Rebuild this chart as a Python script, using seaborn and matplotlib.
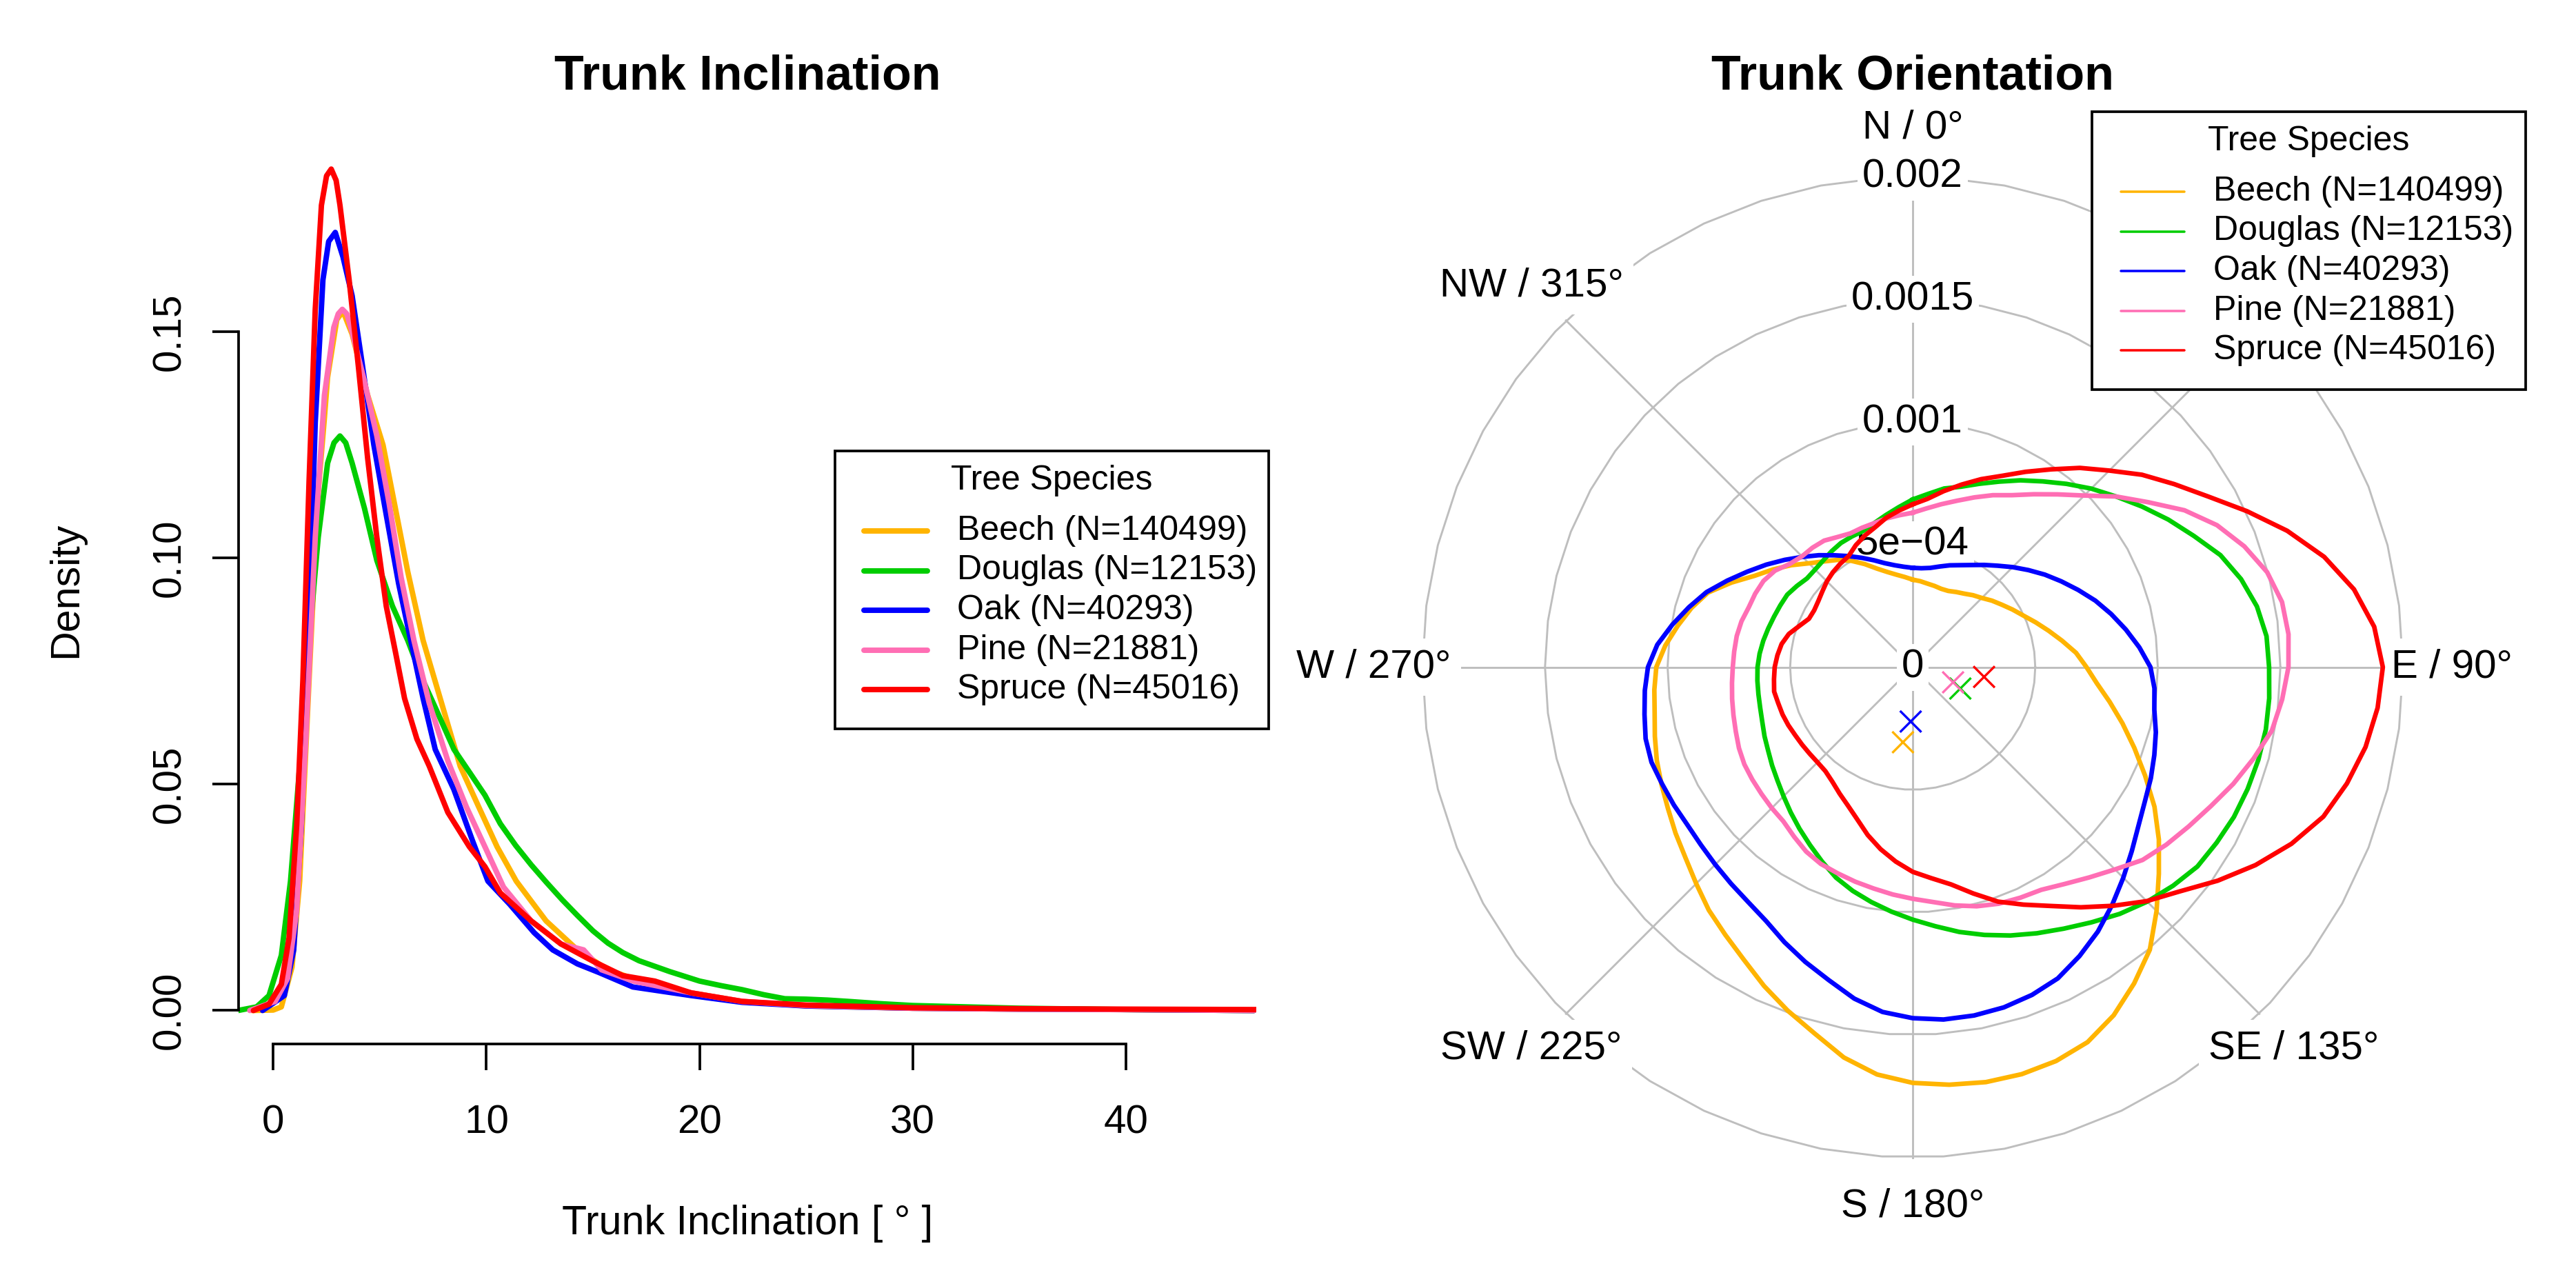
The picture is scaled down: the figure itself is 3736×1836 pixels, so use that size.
import numpy as np
import pandas as pd
import matplotlib
matplotlib.use("Agg")
import matplotlib.pyplot as plt
from matplotlib.patches import Rectangle
import seaborn as sns

plt.rcParams['font.family'] = ['Liberation Sans', 'DejaVu Sans']

# ---------------- data ----------------
species = ["Beech", "Douglas", "Oak", "Pine", "Spruce"]
counts = [140499, 12153, 40293, 21881, 45016]
colors = ["#FFB400", "#00CD00", "#0000FF", "#FF6EB4", "#FF0000"]

# Trunk inclination density curves (x in degrees, density)
beech_x = [-1.0, 0.0, 0.38, 0.88, 1.24, 1.68, 2.11, 2.4, 2.55, 2.98, 3.27, 3.7, 4.43, 5.15, 5.73, 6.31, 7.03, 7.9,
           8.77, 9.64, 10.5, 11.4, 12.8, 14.27, 15.7, 17.2, 19.6, 22, 25, 30, 35, 40, 46]
beech_d = [0.0, 0.0001, 0.0008, 0.0096, 0.0286, 0.073, 0.1147, 0.131, 0.140, 0.1527, 0.1546, 0.1495, 0.136, 0.125,
           0.111, 0.097, 0.0818, 0.0679, 0.054, 0.045, 0.0362, 0.0286, 0.0198, 0.0134, 0.009, 0.0065, 0.0039, 0.002,
           0.001, 0.0005, 0.0003, 0.0002, 0.0]
douglas_x = [-1.65, -0.78, -0.2, 0.38, 0.81, 1.24, 1.68, 2.11, 2.55, 2.85, 3.13, 3.4, 3.7, 4.28, 4.86, 5.59, 6.31,
             7.03, 7.76, 8.48, 9.2, 9.93, 10.65, 11.37, 12.1, 12.82, 13.55, 14.27, 15.0, 15.7, 16.4, 17.16, 18.6,
             20, 21, 22, 23, 24, 25, 26, 27, 28.5, 30, 35, 40, 46]
douglas_d = [0.0, 0.0008, 0.0033, 0.0122, 0.0286, 0.054, 0.0818, 0.1046, 0.121, 0.1255, 0.127, 0.1255, 0.121, 0.111,
             0.0995, 0.0894, 0.0818, 0.0729, 0.0653, 0.0577, 0.0527, 0.0476, 0.0413, 0.0365, 0.0322, 0.0283, 0.0245,
             0.021, 0.0176, 0.0149, 0.0128, 0.0110, 0.0086, 0.0065, 0.0055, 0.0046, 0.0035, 0.0026, 0.0025, 0.0023,
             0.0020, 0.0015, 0.0011, 0.0005, 0.0002, 0.0]
oak_x = [-0.5, 0.52, 0.96, 1.32, 1.68, 1.97, 2.33, 2.6, 2.91, 3.27, 3.7, 4.14, 4.72, 5.3, 5.88, 6.45, 7.03, 7.6, 8.47,
         9.35, 10.07, 11.09, 12.24, 13.11, 14.27, 15.28, 16.87, 19.6, 22, 25, 30, 35, 40, 46]
oak_d = [0.0, 0.0033, 0.0134, 0.041, 0.0856, 0.13, 0.1615, 0.170, 0.172, 0.1666, 0.158, 0.144, 0.125, 0.1096, 0.0944,
         0.0818, 0.069, 0.0577, 0.0489, 0.0375, 0.0286, 0.0235, 0.0172, 0.0134, 0.0103, 0.0084, 0.0052, 0.0033,
         0.0018, 0.001, 0.0005, 0.0003, 0.0002, 0.0]
pine_x = [-1.1, 0.09, 0.67, 1.1, 1.53, 1.97, 2.4, 2.84, 3.05, 3.24, 3.45, 3.7, 4.28, 4.86, 5.44, 6.0, 6.6, 7.32, 8.19,
          9.06, 9.93, 10.8, 12.1, 13.5, 14.56, 15.4, 16.9, 19.6, 22, 25, 30, 35, 40, 46]
pine_d = [0.0, 0.002, 0.0071, 0.0223, 0.060, 0.1046, 0.136, 0.151, 0.154, 0.155, 0.154, 0.150, 0.139, 0.127, 0.112,
          0.0957, 0.0818, 0.0679, 0.0552, 0.045, 0.0362, 0.0273, 0.0198, 0.0147, 0.0134, 0.009, 0.0065, 0.0039,
          0.002, 0.0011, 0.0005, 0.0003, 0.0002, 0.0]
spruce_x = [-0.93, -0.2, 0.38, 0.74, 1.1, 1.39, 1.68, 1.97, 2.26, 2.5, 2.72, 2.95, 3.13, 3.56, 3.99, 4.43, 4.86, 5.3,
            5.73, 6.16, 6.74, 7.32, 8.19, 9.2, 9.93, 10.65, 12.1, 13.5, 15.0, 16.4, 17.9, 19.6, 22, 25, 30, 35, 40,
            46.3]
spruce_d = [0.0, 0.0014, 0.0058, 0.016, 0.041, 0.073, 0.117, 0.155, 0.178, 0.1845, 0.186, 0.1835, 0.178, 0.1615,
            0.1425, 0.122, 0.1046, 0.0894, 0.0793, 0.069, 0.060, 0.054, 0.0438, 0.0362, 0.0318, 0.026, 0.0198,
            0.0147, 0.0109, 0.0077, 0.0065, 0.0039, 0.002, 0.0012, 0.0006, 0.0004, 0.0003, 0.0002]

# Trunk orientation densities (units of 1e-4) at compass bearings 0, 5, ..., 355 degrees
bearings = list(range(0, 360, 5))
beech_r = [3.57, 3.52, 3.46, 3.43, 3.40, 3.43, 3.54, 3.66, 3.83, 3.99, 4.22, 4.44,
           4.70, 4.98, 5.34, 5.74, 6.19, 6.69, 7.09, 7.54, 8.16, 8.86, 9.62, 10.46,
           11.39, 12.26, 13.11, 14.07, 15.05, 15.75, 16.40, 16.88, 17.10, 17.19, 17.19, 17.10,
           16.96, 16.68, 16.17, 15.47, 14.91, 14.35, 13.78, 13.33, 12.94, 12.49, 12.10, 11.81,
           11.53, 11.31, 11.11, 10.89, 10.69, 10.58, 10.46, 10.13, 9.73, 9.34, 8.89, 8.16,
           7.45, 6.95, 6.47, 5.99, 5.63, 5.34, 5.01, 4.64, 4.28, 4.02, 3.83, 3.69]
douglas_r = [6.84, 7.09, 7.40, 7.62, 7.96, 8.35, 8.80, 9.25, 9.76, 10.30, 10.83, 11.42,
             12.04, 12.66, 13.36, 13.87, 14.26, 14.49, 14.54, 14.60, 14.63, 14.60, 14.54, 14.46,
             14.32, 14.18, 13.87, 13.53, 13.14, 12.71, 12.32, 11.98, 11.65, 11.31, 10.97, 10.61,
             10.30, 10.01, 9.73, 9.45, 9.14, 8.75, 8.38, 8.05, 7.74, 7.45, 7.20, 7.00,
             6.81, 6.67, 6.53, 6.44, 6.39, 6.36, 6.33, 6.27, 6.19, 6.10, 6.02, 5.96,
             5.91, 5.77, 5.63, 5.63, 5.68, 5.77, 5.85, 5.88, 5.91, 6.08, 6.30, 6.55]
oak_r = [4.05, 4.05, 4.11, 4.25, 4.42, 4.59, 4.81, 5.09, 5.40, 5.77, 6.16, 6.58,
         7.00, 7.45, 7.93, 8.38, 8.83, 9.28, 9.70, 9.90, 10.01, 10.27, 10.49, 10.72,
         10.94, 11.25, 11.67, 12.15, 12.66, 13.17, 13.61, 14.01, 14.23, 14.37, 14.43, 14.43,
         14.32, 14.12, 13.73, 13.22, 12.80, 12.38, 11.96, 11.70, 11.53, 11.39, 11.28, 11.22,
         11.25, 11.28, 11.34, 11.28, 11.11, 10.97, 10.80, 10.46, 9.96, 9.45, 8.95, 8.35,
         7.79, 7.29, 6.81, 6.36, 5.96, 5.57, 5.23, 4.92, 4.64, 4.39, 4.22, 4.11]
pine_r = [6.30, 6.50, 6.75, 7.03, 7.37, 7.74, 8.10, 8.61, 9.20, 9.90, 10.83, 11.73,
          12.80, 13.70, 14.40, 14.97, 15.30, 15.39, 15.33, 15.13, 14.88, 14.40, 13.92, 13.42,
          13.00, 12.63, 12.24, 11.67, 11.20, 10.80, 10.49, 10.38, 10.27, 10.10, 9.87, 9.62,
          9.45, 9.31, 9.17, 9.06, 8.95, 8.86, 8.69, 8.44, 8.21, 8.13, 8.05, 7.99,
          7.93, 7.82, 7.68, 7.57, 7.48, 7.40, 7.34, 7.31, 7.29, 7.23, 7.12, 7.09,
          7.03, 6.86, 6.55, 6.39, 6.36, 6.30, 6.13, 6.02, 6.05, 6.08, 6.16, 6.22]
spruce_r = [6.64, 6.89, 7.29, 7.71, 8.16, 8.61, 9.20, 9.85, 10.61, 11.34, 12.21, 13.02,
            13.92, 15.05, 16.26, 17.38, 18.28, 18.90, 19.18, 19.04, 18.76, 18.34, 17.83, 17.05,
            16.15, 15.19, 14.23, 13.50, 12.71, 11.96, 11.25, 10.69, 10.18, 9.56, 9.00, 8.64,
            8.35, 7.96, 7.54, 7.09, 6.61, 6.24, 5.96, 5.71, 5.54, 5.49, 5.49, 5.51,
            5.54, 5.60, 5.65, 5.68, 5.74, 5.68, 5.63, 5.54, 5.43, 5.23, 4.92, 4.67,
            4.64, 4.70, 4.81, 4.95, 5.06, 5.15, 5.23, 5.49, 5.71, 5.91, 6.19, 6.41]
# mean resultant vectors (bearing in degrees, length in 1e-4)
mean_bearing = [187.4, 114.2, 182.1, 110.6, 97.8]
mean_length = [3.09, 2.13, 2.22, 1.76, 2.94]

ring_values = [0, 5, 10, 15, 20]
ring_labels = ["0", "5e\u221204", "0.001", "0.0015", "0.002"]
dir_angles = [0, 90, 135, 180, 225, 270, 315]
dir_labels = ["N / 0\u00b0", "E / 90\u00b0", "SE / 135\u00b0", "S / 180\u00b0",
              "SW / 225\u00b0", "W / 270\u00b0", "NW / 315\u00b0"]
spoke_angles = [0, 45, 90, 135, 180, 225, 270, 315]
y_ticks = [0.0, 0.05, 0.10, 0.15]
y_tick_labels = ["0.00", "0.05", "0.10", "0.15"]
x_ticks = [0, 10, 20, 30, 40]

# ---------------- figure ----------------
W, H, DPI = 3736, 1836, 300
fig = plt.figure(figsize=(W / DPI, H / DPI), dpi=DPI)
fig.patch.set_facecolor("white")


def rect(x0, y0, x1, y1):
    return [x0 / W, 1 - y1 / H, (x1 - x0) / W, (y1 - y0) / H]


# ---- left: inclination densities ----
ax1 = fig.add_axes(rect(346.4, 196, 1821.5, 1514))
frames = []
for sp, xs, ds in zip(species,
                      [beech_x, douglas_x, oak_x, pine_x, spruce_x],
                      [beech_d, douglas_d, oak_d, pine_d, spruce_d]):
    frames.append(pd.DataFrame({"incl": xs, "density": ds, "species": sp}))
incl = pd.concat(frames, ignore_index=True)
sns.lineplot(data=incl, x="incl", y="density", hue="species", hue_order=species,
             palette=dict(zip(species, colors)), estimator=None, legend=False,
             linewidth=1.9, ax=ax1)
for ln in ax1.lines:
    ln.set_solid_joinstyle("round")
    ln.set_solid_capstyle("round")
ax1.set_xlim(-1.614, 46.1)
ax1.set_ylim(-0.0074, 0.1935)
ax1.set_facecolor("white")
for s in ["top", "right"]:
    ax1.spines[s].set_visible(False)
ax1.spines["left"].set_bounds(0, 0.15)
ax1.spines["bottom"].set_bounds(0, 40)
for s in ["left", "bottom"]:
    ax1.spines[s].set_linewidth(0.9)
    ax1.spines[s].set_color("black")
ax1.set_yticks(y_ticks)
ax1.set_yticklabels(y_tick_labels)
ax1.set_xticks(x_ticks)
ax1.set_xticklabels([str(t) for t in x_ticks])
ax1.tick_params(axis="both", direction="out", length=9.1, width=0.9, colors="black", labelsize=14)
ax1.tick_params(axis="x", pad=12)
ax1.tick_params(axis="y", pad=8.5)
for lab in ax1.get_yticklabels():
    lab.set_rotation(90)
    lab.set_va("center")
    lab.set_ha("right")
ax1.set_xlabel("")
ax1.set_ylabel("")
ax1.grid(False)

# ---- right: orientation densities (compass layout) ----
cx, cy, scale = 2774, 967.5, 35.55
ax2 = fig.add_axes(rect(1900, 0, W, H))
ax2.set_xlim((1900 - cx) / scale, (W - cx) / scale)
ax2.set_ylim((cy - H) / scale, cy / scale)
ax2.axis("off")


def compass_xy(bearing_deg, r):
    b = np.deg2rad(np.asarray(bearing_deg, dtype=float))
    r = np.asarray(r, dtype=float)
    return r * np.sin(b), r * np.cos(b)


grid_col = "#BEBEBE"
poly = np.deg2rad(np.arange(0, 360, 7.2))
for rv in ring_values[1:]:
    gx = np.append(rv * np.cos(poly), rv)
    gy = np.append(rv * np.sin(poly), 0)
    ax2.plot(gx, gy, color=grid_col, lw=0.7, zorder=1, solid_joinstyle="miter")
for a in spoke_angles:
    sx, sy = compass_xy([a, a], [0, 20])
    ax2.plot(sx, sy, color=grid_col, lw=0.7, zorder=1)

for rv, lab in zip(ring_values, ring_labels):
    ax2.text(0, rv, lab, ha="center", va="center", fontsize=14, zorder=2,
             bbox=dict(boxstyle="square,pad=0.12", fc="white", ec="none"))
for a, lab in zip(dir_angles, dir_labels):
    tx, ty = compass_xy(a, 22.0)
    ax2.text(float(tx), float(ty), lab, ha="center", va="center", fontsize=14, zorder=2,
             bbox=dict(boxstyle="square,pad=0.25", fc="white", ec="none"))

for sp, rr, c in zip(species, [beech_r, douglas_r, oak_r, pine_r, spruce_r], colors):
    b = bearings + [bearings[0]]
    r = rr + [rr[0]]
    px, py = compass_xy(b, r)
    sns.lineplot(x=px, y=py, sort=False, estimator=None, color=c, linewidth=1.6, ax=ax2, zorder=3)
for ln in ax2.lines[-5:]:
    ln.set_solid_joinstyle("round")

mx, my = compass_xy(mean_bearing, mean_length)
means = pd.DataFrame({"mx": mx, "my": my, "species": species})
sns.scatterplot(data=means, x="mx", y="my", hue="species", hue_order=species,
                palette=dict(zip(species, colors)), marker="x", s=55, linewidth=0.8,
                legend=False, ax=ax2, zorder=4)
ax2.set_xlabel("")
ax2.set_ylabel("")

# ---- overlay: titles, axis labels, legends ----
ax0 = fig.add_axes([0, 0, 1, 1])
ax0.set_xlim(0, W)
ax0.set_ylim(H, 0)
ax0.axis("off")
ax0.set_zorder(10)

ax0.text(1084, 130, "Trunk Inclination", ha="center", va="baseline", fontsize=16.8, fontweight="bold")
ax0.text(cx, 130, "Trunk Orientation", ha="center", va="baseline", fontsize=16.8, fontweight="bold")
ax0.text(96, 855, "Density", ha="center", va="center", rotation=90, fontsize=14.2)
ax0.text(1084, 1790, "Trunk Inclination [ \u00b0 ]", ha="center", va="baseline", fontsize=14.2)


def draw_legend(x0, y0, line_w):
    ax0.add_patch(Rectangle((x0, y0), 629, 403, fc="white", ec="black", lw=0.9, zorder=5))
    ax0.text(x0 + 314.5, y0 + 43, "Tree Species", ha="center", va="center", fontsize=12, zorder=6)
    for i, (sp, n, c) in enumerate(zip(species, counts, colors)):
        yy = y0 + 116 + 57.5 * i
        ax0.plot([x0 + 42, x0 + 134], [yy, yy], color=c, lw=line_w, solid_capstyle="round", zorder=6)
        ax0.text(x0 + 176.5, yy, f"{sp} (N={n})", ha="left", va="center", fontsize=12, zorder=6)


draw_legend(1211, 654, 1.9)
draw_legend(3034, 162, 0.85)

fig.savefig("out.png", dpi=DPI, facecolor="white")
